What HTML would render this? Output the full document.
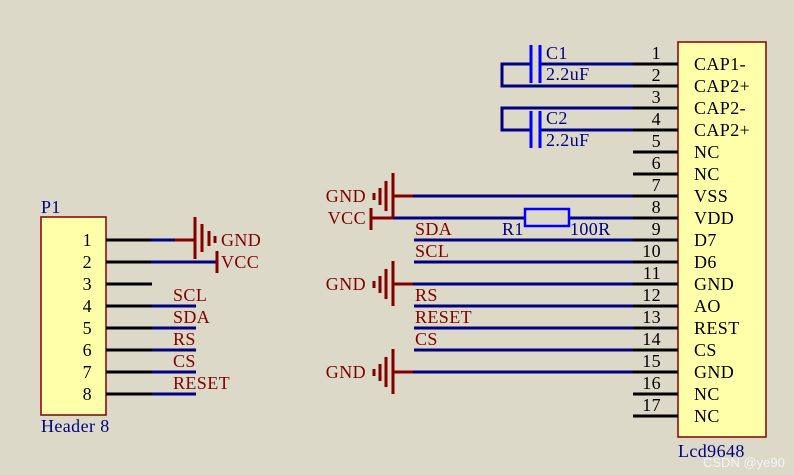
<!DOCTYPE html>
<html><head><meta charset="utf-8"><style>
html,body{margin:0;padding:0;background:#ddd9c8;}
svg{display:block;font-family:"Liberation Serif",serif;font-size:18px;letter-spacing:0.4px;}
</style></head><body>
<svg width="794" height="475" viewBox="0 0 794 475" xmlns="http://www.w3.org/2000/svg">
<rect width="794" height="475" fill="#ddd9c8"/>
<!-- LCD -->
<rect x="678" y="42" width="88" height="395" fill="#ffffaa" stroke="#800000" stroke-width="1.5"/>
<g stroke="#000" stroke-width="3">
<line x1="633" y1="64" x2="678" y2="64"/><line x1="633" y1="86" x2="678" y2="86"/><line x1="633" y1="108" x2="678" y2="108"/><line x1="633" y1="130" x2="678" y2="130"/><line x1="633" y1="152" x2="678" y2="152"/><line x1="633" y1="174" x2="678" y2="174"/><line x1="633" y1="196" x2="678" y2="196"/><line x1="633" y1="218" x2="678" y2="218"/><line x1="633" y1="240" x2="678" y2="240"/><line x1="633" y1="262" x2="678" y2="262"/><line x1="633" y1="284" x2="678" y2="284"/><line x1="633" y1="306" x2="678" y2="306"/><line x1="633" y1="328" x2="678" y2="328"/><line x1="633" y1="350" x2="678" y2="350"/><line x1="633" y1="372" x2="678" y2="372"/><line x1="633" y1="394" x2="678" y2="394"/><line x1="633" y1="416" x2="678" y2="416"/>
</g>
<g fill="#000" text-anchor="end">
<text x="661" y="59">1</text><text x="661" y="81">2</text><text x="661" y="103">3</text><text x="661" y="125">4</text><text x="661" y="147">5</text><text x="661" y="169">6</text><text x="661" y="191">7</text><text x="661" y="213">8</text><text x="661" y="235">9</text><text x="661" y="257">10</text><text x="661" y="279">11</text><text x="661" y="301">12</text><text x="661" y="323">13</text><text x="661" y="345">14</text><text x="661" y="367">15</text><text x="661" y="389">16</text><text x="661" y="411">17</text>
</g>
<g fill="#000">
<text x="694" y="70">CAP1-</text><text x="694" y="92">CAP2+</text><text x="694" y="114">CAP2-</text><text x="694" y="136">CAP2+</text><text x="694" y="158">NC</text><text x="694" y="180">NC</text><text x="694" y="202">VSS</text><text x="694" y="224">VDD</text><text x="694" y="246">D7</text><text x="694" y="268">D6</text><text x="694" y="290">GND</text><text x="694" y="312">AO</text><text x="694" y="334">REST</text><text x="694" y="356">CS</text><text x="694" y="378">GND</text><text x="694" y="400">NC</text><text x="694" y="422">NC</text>
</g>
<text x="678" y="457" fill="#000080">Lcd9648</text>
<text x="703" y="467" fill="#f4f4f4" font-family="Liberation Sans,sans-serif" font-size="13" letter-spacing="0">CSDN @ye90</text>
<!-- wires right -->
<g stroke="#000080" stroke-width="3" fill="none">
<polyline points="531,64 502,64 502,86 633,86"/><line x1="540" y1="64" x2="633" y2="64"/>
<polyline points="633,108 502,108 502,130 531,130"/><line x1="540" y1="130" x2="633" y2="130"/>
<line x1="413" y1="196" x2="633" y2="196"/>
<line x1="393" y1="218" x2="524" y2="218"/><line x1="569" y1="218" x2="633" y2="218"/>
<line x1="414" y1="240" x2="633" y2="240"/><line x1="414" y1="262" x2="633" y2="262"/>
<line x1="413" y1="284" x2="633" y2="284"/><line x1="414" y1="306" x2="633" y2="306"/>
<line x1="414" y1="328" x2="633" y2="328"/><line x1="414" y1="350" x2="633" y2="350"/>
<line x1="413" y1="372" x2="633" y2="372"/>
</g>
<!-- caps -->
<g stroke="#0000ff" stroke-width="3">
<line x1="531" y1="45" x2="531" y2="83"/><line x1="540" y1="45" x2="540" y2="83"/>
<line x1="531" y1="111" x2="531" y2="148"/><line x1="540" y1="111" x2="540" y2="148"/>
</g>
<rect x="525" y="209" width="44" height="17" fill="none" stroke="#0000ff" stroke-width="2.5"/>
<g fill="#000080">
<text x="546" y="59">C1</text><text x="546" y="80">2.2uF</text>
<text x="546" y="124">C2</text><text x="546" y="146">2.2uF</text>
<text x="502" y="235">R1</text><text x="570" y="235">100R</text>
</g>
<!-- GND / VCC right -->
<g stroke="#800000" stroke-width="3">
<line x1="393" y1="196" x2="413" y2="196"/>
<line x1="393" y1="173" x2="393" y2="217"/><line x1="386" y1="181" x2="386" y2="211"/><line x1="380" y1="188" x2="380" y2="205"/><line x1="374" y1="193" x2="374" y2="200"/>
<line x1="371" y1="218" x2="393" y2="218"/><line x1="371" y1="208" x2="371" y2="230"/>
<line x1="393" y1="284" x2="413" y2="284"/>
<line x1="393" y1="261" x2="393" y2="306"/><line x1="386" y1="269" x2="386" y2="299"/><line x1="380" y1="276" x2="380" y2="293"/><line x1="374" y1="281" x2="374" y2="288"/>
<line x1="393" y1="372" x2="413" y2="372"/>
<line x1="393" y1="349" x2="393" y2="394"/><line x1="386" y1="357" x2="386" y2="387"/><line x1="380" y1="364" x2="380" y2="381"/><line x1="374" y1="369" x2="374" y2="376"/>
</g>
<g fill="#800000">
<text x="366" y="202" text-anchor="end">GND</text><text x="366" y="224" text-anchor="end">VCC</text>
<text x="366" y="290" text-anchor="end">GND</text><text x="366" y="378" text-anchor="end">GND</text>
<text x="415" y="235">SDA</text><text x="415" y="257">SCL</text><text x="415" y="301">RS</text><text x="415" y="323">RESET</text><text x="415" y="345">CS</text>
</g>
<!-- P1 -->
<rect x="41" y="217" width="65" height="198" fill="#ffffaa" stroke="#800000" stroke-width="1.5"/>
<text x="41" y="213" fill="#000080">P1</text>
<text x="41" y="432" fill="#000080">Header 8</text>
<g stroke="#000" stroke-width="3">
<line x1="106" y1="240" x2="151" y2="240"/><line x1="106" y1="262" x2="151" y2="262"/><line x1="106" y1="284" x2="152" y2="284"/><line x1="106" y1="306" x2="152" y2="306"/><line x1="106" y1="328" x2="152" y2="328"/><line x1="106" y1="350" x2="152" y2="350"/><line x1="106" y1="372" x2="152" y2="372"/><line x1="106" y1="394" x2="152" y2="394"/>
</g>
<g stroke="#000080" stroke-width="3">
<line x1="151" y1="240" x2="175" y2="240"/><line x1="151" y1="262" x2="217" y2="262"/>
<line x1="152" y1="306" x2="196" y2="306"/><line x1="152" y1="328" x2="196" y2="328"/><line x1="152" y1="350" x2="196" y2="350"/><line x1="152" y1="372" x2="196" y2="372"/><line x1="152" y1="394" x2="196" y2="394"/>
</g>
<g stroke="#800000" stroke-width="3">
<line x1="175" y1="240" x2="195" y2="240"/>
<line x1="195" y1="217" x2="195" y2="259"/><line x1="202" y1="224" x2="202" y2="252"/><line x1="209" y1="231" x2="209" y2="246"/><line x1="215" y1="236" x2="215" y2="243"/>
<line x1="217" y1="251" x2="217" y2="273"/>
</g>
<g fill="#000" text-anchor="end">
<text x="92" y="246">1</text><text x="92" y="268">2</text><text x="92" y="290">3</text><text x="92" y="312">4</text><text x="92" y="334">5</text><text x="92" y="356">6</text><text x="92" y="378">7</text><text x="92" y="400">8</text>
</g>
<g fill="#800000">
<text x="221" y="246">GND</text><text x="221" y="268">VCC</text>
<text x="173" y="301">SCL</text><text x="173" y="323">SDA</text><text x="173" y="345">RS</text><text x="173" y="367">CS</text><text x="173" y="389">RESET</text>
</g>
</svg>
</body></html>
